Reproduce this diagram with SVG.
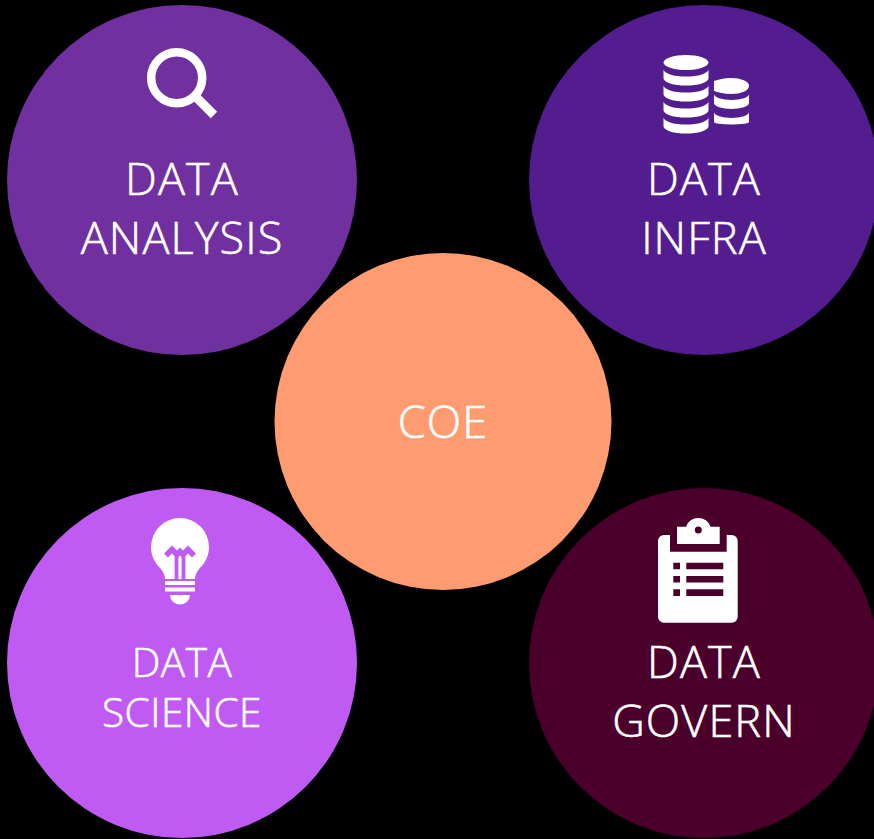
<svg xmlns="http://www.w3.org/2000/svg" width="874" height="839" viewBox="0 0 874 839">
<style>
text{font-family:"Open Sans","Noto Sans","Liberation Sans",sans-serif;font-weight:300;fill:#fff;stroke:#fff;stroke-width:.6px;text-anchor:middle}
.l{font-size:45px;letter-spacing:1.1px}
.s{font-size:40.500px;letter-spacing:.5px}
.i{fill:#fff}
</style>
<rect width="874" height="839" fill="#000"/>
<g id="connectors"></g>
<g id="data-analysis">
<circle cx="182" cy="180" r="175" fill="#7030A0"/>
<circle cx="176.7" cy="77.7" r="25.5" fill="none" stroke="#fff" stroke-width="8.5"/>
<path d="M195 96L214 115" stroke="#fff" stroke-width="9" fill="none"/>
<text class="l" x="182" y="195">DATA</text>
<text class="l" x="182" y="254">ANALYSIS</text>
</g>
<g id="data-infra">
<circle cx="704" cy="180" r="175" fill="#531C8F"/>
<g class="i">
<ellipse cx="686" cy="62.5" rx="22.5" ry="7.5"/>
<path d="M663.5 69.300a22.500 7.300 0 0 0 45 0v9a22.500 7.300 0 0 1-45 0z"/>
<path d="M663.5 85.300a22.500 7.300 0 0 0 45 0v9a22.500 7.300 0 0 1-45 0z"/>
<path d="M663.5 101.300a22.500 7.300 0 0 0 45 0v9a22.500 7.300 0 0 1-45 0z"/>
<path d="M663.5 117.300a22.500 7.300 0 0 0 45 0v9a22.500 7.300 0 0 1-45 0z"/>
<path d="M714 81C718 79.500 724 78 731.500 78A17.500 8 0 0 1 731.500 94C724 94 718 92.500 714 91z"/>
<path d="M714 94a17.500 6 0 0 0 35 0v9a17.500 6 0 0 1-35 0z"/>
<path d="M714 112a17.500 6 0 0 0 35 0v10a17.500 2.500 0 0 1-35 0z"/>
</g>
<text class="l" x="704" y="195">DATA</text>
<text class="l" x="704" y="254">INFRA</text>
</g>
<g id="coe">
<circle cx="443" cy="421.500" r="168.500" fill="#FF9B71"/>
<text class="l" x="443" y="438">COE</text>
</g>
<g id="data-science">
<circle cx="182" cy="663" r="175" fill="#BF5AF2"/>
<path class="i" d="M180 518a29 29 0 0 0-29 29c0 9 4 16 9 21c3 3 5 7 5 11h30c0-4 2-8 5-11c5-5 9-12 9-21a29 29 0 0 0-29-29z"/>
<path d="M166 555.500L172 549.500L177 554.500L180 551.500L183 554.500L188 549.500L194 555.500" fill="none" stroke="#BF5AF2" stroke-width="5.500"/>
<path d="M176.500 553V579M183.500 553V579" fill="none" stroke="#BF5AF2" stroke-width="3.800"/>
<path class="i" d="M165 581h30v4h-30zM165 587.500h30v4h-30zM170 595h20a10 9.500 0 0 1-20 0z"/>
<text class="s" x="182" y="677">DATA</text>
<text class="s" x="182" y="727">SCIENCE</text>
</g>
<g id="data-govern">
<circle cx="704" cy="663" r="175" fill="#4A002B"/>
<path class="i" d="M664 535h6v16.700h56.700v-16.700h5a6 6 0 0 1 6 6v75.700a6 6 0 0 1-6 6h-67.700a6 6 0 0 1-6-6v-75.700a6 6 0 0 1 6-6z"/>
<path class="i" fill-rule="evenodd" d="M677 526.700h9a13 13 0 0 1 24.600 0h9.100v17.300h-42.700zM701.800 530a3.500 3.500 0 1 0-7 0a3.500 3.500 0 1 0 7 0z"/>
<path fill="#4A002B" d="M673.300 562.700h6.700v6.600h-6.700zM686.300 562.700h37v6.600h-37zM673.300 576h6.700v6.600h-6.700zM686.300 576h37v6.600h-37zM673.300 589.300h6.700v6.600h-6.700zM686.300 589.300h37v6.600h-37z"/>
<text class="l" x="704" y="678">DATA</text>
<text class="l" x="704" y="737">GOVERN</text>
</g>
</svg>
